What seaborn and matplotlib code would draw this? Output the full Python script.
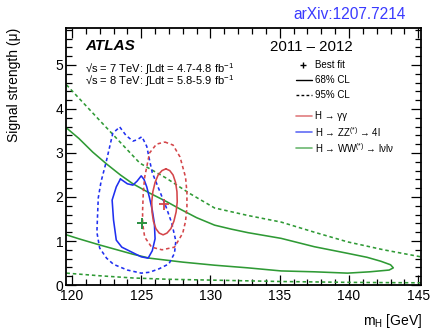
import matplotlib
matplotlib.use("Agg")
import matplotlib.pyplot as plt
from matplotlib.ticker import MultipleLocator
import seaborn as sns
import pandas as pd

# ---- contour data: (m_H [GeV], signal strength mu) ----
# H -> gamma gamma
gg68_m = [126.78, 127.06, 127.30, 127.48, 127.58, 127.60, 127.52, 127.36, 127.14, 126.86,
          126.58, 126.30, 126.06, 125.88, 125.78, 125.76, 125.84, 126.00, 126.22, 126.50, 126.78]
gg68_mu = [2.64, 2.60, 2.50, 2.33, 2.12, 1.89, 1.66, 1.45, 1.28, 1.18,
           1.14, 1.18, 1.28, 1.45, 1.66, 1.89, 2.12, 2.33, 2.50, 2.60, 2.64]
gg95_m = [126.7, 127.3, 127.8, 128.2, 128.3, 128.3, 128.2, 128.0, 127.4, 126.5, 125.75,
          125.25, 125.1, 125.1, 125.15, 125.25, 125.6, 126.1, 126.7]
gg95_mu = [3.25, 3.18, 2.91, 2.45, 2.10, 1.77, 1.45, 1.18, 0.86, 0.80, 0.86,
           1.09, 1.40, 1.70, 2.10, 2.45, 3.00, 3.20, 3.25]

# H -> ZZ(*) -> 4l
zz68_m = [123.5, 124.0, 124.4, 124.7, 125.0, 125.2, 125.4, 125.6, 125.8, 125.95, 126.0,
          125.8, 125.5, 125.0, 124.3, 123.6, 123.2, 123.0, 122.9, 123.2, 123.5]
zz68_mu = [2.41, 2.30, 2.27, 2.36, 2.48, 2.40, 2.23, 1.98, 1.70, 1.40, 1.05,
           0.78, 0.61, 0.64, 0.75, 0.86, 1.02, 1.48, 1.93, 2.23, 2.41]
zz95_m = [123.45, 123.9, 124.4, 124.7, 125.05, 125.4, 125.6, 125.8, 126.3, 126.8, 127.2,
          127.5, 127.4, 127.0, 126.3, 125.6, 125.0, 124.0, 123.0, 122.5, 122.0, 121.8,
          121.85, 121.9, 122.1, 122.45, 122.95, 123.45]
zz95_mu = [3.59, 3.40, 3.27, 3.30, 3.37, 3.15, 2.84, 2.55, 2.16, 1.77, 1.41,
           1.00, 0.72, 0.48, 0.37, 0.29, 0.27, 0.34, 0.47, 0.61, 0.84, 1.20,
           1.60, 1.98, 2.35, 2.77, 3.45, 3.59]

# H -> WW(*) -> lvlv
ww68_m = [119.6, 120.5, 121.5, 122.5, 123.5, 124.4, 125.6, 126.8, 127.9, 129.0, 130.3,
          131.5, 132.7, 135.1, 137.5, 139.9, 141.3, 142.3, 143.0, 143.2, 142.9, 141.5,
          139.9, 137.5, 135.1, 132.7, 130.3, 128.0, 125.6, 124.4, 122.0, 120.5, 119.6]
ww68_mu = [3.57, 3.33, 3.02, 2.75, 2.50, 2.30, 2.09, 1.90, 1.71, 1.53, 1.36,
           1.27, 1.19, 1.06, 0.87, 0.72, 0.63, 0.54, 0.46, 0.39, 0.34, 0.30,
           0.27, 0.30, 0.32, 0.39, 0.45, 0.52, 0.61, 0.70, 0.91, 1.05, 1.14]
ww95_hi_m = [119.6, 122.0, 124.9, 126.8, 128.5, 130.3, 132.7, 135.1, 137.5, 139.9, 142.5, 145.2]
ww95_hi_mu = [4.55, 3.74, 2.77, 2.43, 2.08, 1.75, 1.58, 1.43, 1.20, 0.98, 0.80, 0.64]
ww95_lo_m = [119.6, 122.0, 124.4, 127.0, 130.3, 135.0, 140.0, 145.2]
ww95_lo_mu = [0.27, 0.21, 0.16, 0.13, 0.11, 0.08, 0.06, 0.05]

# best-fit points
best_m = [126.65, 125.05, 125.05]
best_mu = [1.83, 1.40, 1.40]
best_channel = ["gg", "zz", "ww"]

colors = {"gg": "#d4464a", "zz": "#1f2ff0", "ww": "#2f9a35"}
legend_labels = [
    ("gg", "H → γγ"),
    ("zz", "H → ZZ$^{(*)}$ → 4l"),
    ("ww", "H → WW$^{(*)}$ → lνlν"),
]

sns.set_theme(style="ticks")
plt.rcParams.update({
    "font.family": ["Liberation Sans", "DejaVu Sans"],
    "mathtext.fontset": "custom",
    "mathtext.rm": "Liberation Sans",
    "mathtext.it": "Liberation Sans:italic",
    "mathtext.bf": "Liberation Sans:bold",
    "mathtext.default": "regular",
    "text.color": "black",
    "axes.labelcolor": "black",
    "xtick.color": "black",
    "ytick.color": "black",
})

fig = plt.figure(figsize=(4.3, 3.29), dpi=100)
ax = fig.add_axes([0.1535, 0.1337, 0.8256, 0.7812])

solid_lw = 1.15
dash = (0, (2.2, 1.8))


def contour(m, mu, ch, dashed):
    df = pd.DataFrame({"m": m, "mu": mu})
    sns.lineplot(data=df, x="m", y="mu", sort=False, estimator=None, ax=ax,
                 color=colors[ch], lw=solid_lw, linestyle=dash if dashed else "-")


contour(ww95_hi_m, ww95_hi_mu, "ww", True)
contour(ww95_lo_m, ww95_lo_mu, "ww", True)
contour(ww68_m, ww68_mu, "ww", False)
contour(zz95_m, zz95_mu, "zz", True)
contour(zz68_m, zz68_mu, "zz", False)
contour(gg95_m, gg95_mu, "gg", True)
contour(gg68_m, gg68_mu, "gg", False)

best = pd.DataFrame({"m": best_m, "mu": best_mu, "ch": best_channel})
sns.scatterplot(data=best, x="m", y="mu", hue="ch", palette=colors, marker="+",
                s=55, linewidth=1.3, legend=False, ax=ax, zorder=5)

ax.set_xlim(119.57, 145.2)
ax.set_ylim(0, 5.84)
ax.xaxis.set_major_locator(MultipleLocator(5))
ax.xaxis.set_minor_locator(MultipleLocator(1))
ax.yaxis.set_major_locator(MultipleLocator(1))
ax.yaxis.set_minor_locator(MultipleLocator(0.2))
ax.tick_params(which="both", direction="in", top=True, right=True, width=0.9,
               labelsize=10)
ax.tick_params(which="major", length=7.5)
ax.tick_params(which="minor", length=4.2)
ax.tick_params(axis="x", pad=3)
ax.tick_params(axis="y", pad=2)
for s in ax.spines.values():
    s.set_linewidth(1.3)
    s.set_color("black")

ax.set_xlabel("m$_\\mathrm{H}$ [GeV]", loc="right", fontsize=10)
ax.set_ylabel("Signal strength (μ)", loc="top", fontsize=10)
ax.xaxis.set_label_coords(1.005, -0.105)
ax.yaxis.set_label_coords(-0.128, 1.0)

# header texts
ax.text(0.0535, 0.93, "ATLAS", transform=ax.transAxes, fontsize=11,
        fontweight="bold", fontstyle="italic", va="center", ha="left")
ax.text(0.0535, 0.840, "√s = 7 TeV: ∫Ldt = 4.7-4.8 fb$^{-1}$",
        transform=ax.transAxes, fontsize=8, va="center", ha="left")
ax.text(0.0535, 0.795, "√s = 8 TeV: ∫Ldt = 5.8-5.9 fb$^{-1}$",
        transform=ax.transAxes, fontsize=8, va="center", ha="left")
ax.text(0.69, 0.926, "2011 – 2012", transform=ax.transAxes, fontsize=10.8,
        va="center", ha="center")
fig.text(0.814, 0.957, "arXiv:1207.7214", color="#3a3aff", fontsize=11.2,
         va="center", ha="center")

# legend drawn by hand
lx0, lx1, tx = 0.648, 0.693, 0.700
ax.plot([0.668], [0.856], marker="+", color="black", ms=5, mew=1.0,
        transform=ax.transAxes)
ax.text(tx, 0.856, "Best fit", transform=ax.transAxes, fontsize=7, va="center")
ax.plot([lx0, lx1], [0.798, 0.798], color="black", lw=1.0, transform=ax.transAxes)
ax.text(tx, 0.798, "68% CL", transform=ax.transAxes, fontsize=7, va="center")
ax.plot([lx0, lx1], [0.739, 0.739], color="black", lw=1.0, linestyle=(0, (2, 1.6)),
        transform=ax.transAxes)
ax.text(tx, 0.739, "95% CL", transform=ax.transAxes, fontsize=7, va="center")
for (ch, lab), yy in zip(legend_labels, [0.658, 0.595, 0.533]):
    ax.plot([lx0, lx1], [yy, yy], color=colors[ch], lw=1.2, alpha=0.7,
            transform=ax.transAxes)
    ax.text(tx, yy, lab, transform=ax.transAxes, fontsize=7, va="center")

fig.savefig("out.png", dpi=100)
